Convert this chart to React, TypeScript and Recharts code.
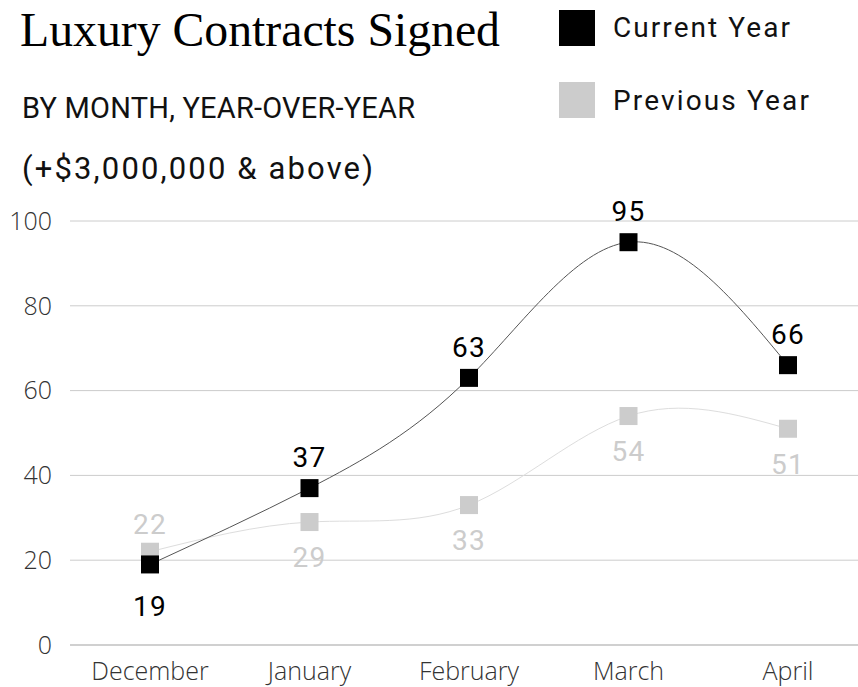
import React from 'react';
import { LineChart, Line, XAxis, YAxis, CartesianGrid } from 'recharts';

const months = ['December', 'January', 'February', 'March', 'April'];
const currentYear = [19, 37, 63, 95, 66];
const previousYear = [22, 29, 33, 54, 51];
const yTicks = [0, 20, 40, 60, 80, 100];

const data = months.map((m, i) => ({ month: m, current: currentYear[i], previous: previousYear[i] }));

const W = 858;
const H = 687;

const SquareDot = (color: string) => (props: any) => {
  const { cx, cy, index } = props;
  if (cx == null || cy == null) return null;
  return <rect key={'d' + index} x={cx - 9} y={cy - 9} width={18} height={18} fill={color} />;
};

const labelFont = { fontFamily: 'Roboto, sans-serif', fontSize: 28, letterSpacing: 1.2 };

const CurrentLabel = (props: any) => {
  const { x, y, value, index } = props;
  const below = currentYear[index] < previousYear[index];
  return (
    <text key={'cl' + index} x={x} y={below ? y + 52 : y - 21} textAnchor="middle" fill="#000" style={labelFont}>
      {value}
    </text>
  );
};

const PreviousLabel = (props: any) => {
  const { x, y, value, index } = props;
  const above = previousYear[index] > currentYear[index];
  return (
    <text key={'pl' + index} x={x} y={above ? y - 18 : y + 45} textAnchor="middle" fill="#cccccc" style={labelFont}>
      {value}
    </text>
  );
};

const tickStyle = { fontFamily: '"Open Sans", sans-serif', fontWeight: 300, fontSize: 25, fill: '#333' };

export default function App() {
  return (
    <div style={{ position: 'absolute', left: 0, top: 0, width: W, height: H, background: '#fff' }}>
      <svg width={W} height={H} style={{ position: 'absolute', left: 0, top: 0 }}>
        <text x={20} y={46} style={{ fontFamily: '"Liberation Serif", serif', fontSize: 48 }} fill="#000" textLength={480} lengthAdjust="spacingAndGlyphs">
          Luxury Contracts Signed
        </text>
        <text x={22} y={118} style={{ fontFamily: 'Roboto, sans-serif', fontSize: 29 }} fill="#111" textLength={393} lengthAdjust="spacing">
          BY MONTH, YEAR-OVER-YEAR
        </text>
        <text x={22} y={179} style={{ fontFamily: 'Roboto, sans-serif', fontSize: 31 }} fill="#111" textLength={351} lengthAdjust="spacing">
          (+$3,000,000 &amp; above)
        </text>
        <rect x={559} y={10} width={36} height={36} fill="#000" />
        <text x={613} y={37} style={{ fontFamily: 'Roboto, sans-serif', fontSize: 28 }} fill="#111" textLength={177} lengthAdjust="spacing">
          Current Year
        </text>
        <rect x={559} y={82} width={36} height={36} fill="#cccccc" />
        <text x={613} y={110} style={{ fontFamily: 'Roboto, sans-serif', fontSize: 28 }} fill="#111" textLength={196} lengthAdjust="spacing">
          Previous Year
        </text>
      </svg>
      <div style={{ position: 'absolute', left: 0, top: 0 }}>
        <LineChart width={W} height={H} data={data} margin={{ top: 221, right: 0, bottom: 0, left: 0 }}>
          <CartesianGrid horizontal vertical={false} stroke="#cccccc" />
          <XAxis
            dataKey="month"
            scale="point"
            padding={{ left: 80, right: 70 }}
            height={42}
            tickLine={false}
            axisLine={{ stroke: '#bbbbbb' }}
            tickMargin={11}
            tick={tickStyle}
            interval={0}
          />
          <YAxis
            domain={[0, 100]}
            ticks={yTicks}
            width={70}
            tickLine={false}
            axisLine={false}
            tickMargin={12}
            tick={tickStyle}
          />
          <Line
            dataKey="previous"
            type="natural"
            stroke="#dddddd"
            strokeWidth={1}
            dot={SquareDot('#cccccc')}
            activeDot={false}
            label={PreviousLabel}
            isAnimationActive={false}
          />
          <Line
            dataKey="current"
            type="natural"
            stroke="#555555"
            strokeWidth={1}
            dot={SquareDot('#000000')}
            activeDot={false}
            label={CurrentLabel}
            isAnimationActive={false}
          />
        </LineChart>
      </div>
    </div>
  );
}
